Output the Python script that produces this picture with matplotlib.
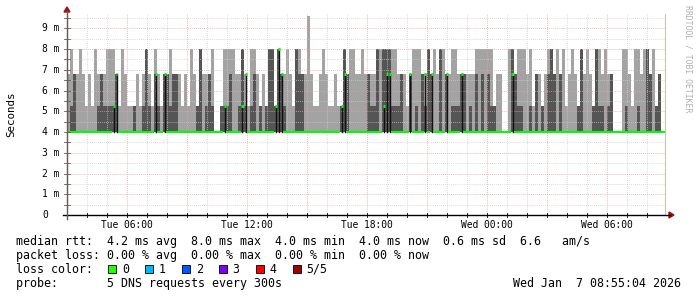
import numpy as np
import matplotlib.pyplot as plt
from matplotlib.patches import Rectangle, Polygon

W, H = 697, 297

# rtt levels in ms the 5 DNS probes fall on
level_ms = [4.0, 5.24, 6.78, 8.0, 9.6]
step_h = 0.15  # one column = 9 minutes, start Tue 03:00

# per column: top of light smoke, top of dark smoke, median (index into level_ms)
hi_code = ("232232121322233321321112123213212"
           "232221213213222330133332232133212"
           "1331322321332242112321121132332232"
           "222333333322212333223232332233222"
           "222333333122103323332312212332323"
           "1232132321332322000332133233231230")
dk_code = ("012000000012111120000010013102102"
           "212200000013012100111200131012010"
           "1331321000322000000000000132000000"
           "211303331112002010213200302011122"
           "010202021100000321100102010232020"
           "0000130001311012000010001003201200")
med_code = ("000000000000000120000000000002002"
            "000000000000000000010000012000000"
            "0001320000000000000000000120000000"
            "000001220000002000020200002000020"
            "000000000000000200000000000000000"
            "0000000000000000000000000000000000")

tick_hours = [3, 9, 15, 21, 27]
tick_labels = ["Tue 06:00", "Tue 12:00", "Tue 18:00", "Wed 00:00", "Wed 06:00"]
y_ticks = [0, 1, 2, 3, 4, 5, 6, 7, 8, 9]
y_labels = ["0", "1 m", "2 m", "3 m", "4 m", "5 m", "6 m", "7 m", "8 m", "9 m"]

legend_lines = [
    "median rtt:  4.2 ms avg  8.0 ms max  4.0 ms min  4.0 ms now  0.6 ms sd  6.6   am/s",
    "packet loss: 0.00 % avg  0.00 % max  0.00 % min  0.00 % now",
    "loss color:",
    "probe:       5 DNS requests every 300s",
]
loss_names = ["0", "1", "2", "3", "4", "5/5"]
loss_colors = ["#26ff00", "#00b8ff", "#0059ff", "#7e00ff", "#ff0000", "#a10000"]
stamp = "Wed Jan  7 08:55:04 2026"

hi = np.array([level_ms[int(c)] for c in hi_code])
dk = np.array([level_ms[int(c)] for c in dk_code])
med = np.array([int(c) for c in med_code])
n = len(hi)
edges = np.arange(n + 1) * step_h

mono = "DejaVu Sans Mono"
fig = plt.figure(figsize=(W / 100, H / 100), dpi=100)
fig.patch.set_facecolor("white")

def fx(px):
    return px / W

def fy(py):
    return 1 - py / H

x0, x1, ytop, ybot = 67, 665, 14, 215
ax = fig.add_axes([fx(x0), fy(ybot), fx(x1) - fx(x0), fy(ytop) - fy(ybot)])
ax.set_xlim(0, 29.9)
ax.set_ylim(0, 9.69)
ax.set_xticks([])
ax.set_yticks([])
for s in ax.spines.values():
    s.set_visible(False)

base = 4.0
ax.fill_between(edges, base, np.append(hi, hi[-1]), step="post",
                where=np.append(hi > base, True), color="#a3a3a3", lw=0, zorder=1)
dk_plot = np.where(dk > base, dk, base)
ax.fill_between(edges, base, np.append(dk_plot, dk_plot[-1]), step="post",
                color="#555555", lw=0, zorder=2)

# grid on top of the smoke, rrdtool style
dots = (0, (0.7, 1.4))
for h in range(1, 30):
    col = "#e0a4a4" if h % 3 == 0 else "#cccccc"
    ax.axvline(h, color=col, lw=0.7, ls=dots, zorder=3)
for v in np.arange(0.5, 9.6, 0.5):
    col = "#e0a4a4" if float(v).is_integer() else "#cccccc"
    ax.axhline(v, color=col, lw=0.7, ls=dots, zorder=3)

# median
for k in range(n):
    a, b = edges[k], edges[k + 1]
    if med[k] == 0:
        ax.plot([a, b], [base, base], color="#00ff00", lw=1.5,
                solid_capstyle="butt", zorder=5)
    else:
        m = level_ms[med[k]]
        xm = (a + b) / 2
        ax.plot([xm, xm], [base, m], color="#111111", lw=1.0, zorder=4)
        ax.plot([xm - 0.05, xm + 0.05], [m, m], color="#00ff00", lw=2.2,
                solid_capstyle="butt", zorder=5)

# axes lines and arrows
fig.add_artist(plt.Line2D([fx(x1), fx(x1)], [fy(ybot), fy(ytop)], color="#c8c8a8", lw=0.8))
fig.add_artist(plt.Line2D([fx(63), fx(670)], [fy(ybot), fy(ybot)], color="black", lw=1.0))
fig.add_artist(plt.Line2D([fx(x0), fx(x0)], [fy(219), fy(11)], color="#6a5555", lw=1.0))
fig.add_artist(Polygon([[fx(669), fy(212)], [fx(674), fy(215)], [fx(669), fy(218)]],
                       closed=True, color="#a01010", transform=fig.transFigure))
fig.add_artist(Polygon([[fx(64), fy(12)], [fx(67), fy(7)], [fx(70), fy(12)]],
                       closed=True, color="#a01010", transform=fig.transFigure))

# small ticks
for v in np.arange(0.5, 9.6, 0.5):
    py = ybot - v * (ybot - ytop) / 9.69
    fig.add_artist(plt.Line2D([fx(64), fx(70)], [fy(py), fy(py)], color="#6a5555", lw=0.6))
for h in range(1, 30):
    px = x0 + h * (x1 - x0) / 29.9
    fig.add_artist(plt.Line2D([fx(px), fx(px)], [fy(213), fy(217)], color="black", lw=0.6))

for v, lab in zip(y_ticks, y_labels):
    py = ybot - v * (ybot - ytop) / 9.69
    fig.text(fx(42), fy(py), lab, family=mono, fontsize=6.9, ha="left", va="center")
for h, lab in zip(tick_hours, tick_labels):
    px = x0 + h * (x1 - x0) / 29.9
    fig.text(fx(px), fy(225), lab, family=mono, fontsize=6.9, ha="center", va="center")

fig.text(fx(11), fy(114), "Seconds", family=mono, fontsize=7.8, rotation=90,
         ha="center", va="center")
fig.text(fx(688), fy(5), "RRDTOOL / TOBI OETIKER", family=mono, fontsize=5.9,
         rotation=270, ha="center", va="top", color="#b0b0b0")

baselines = [245, 259, 273, 287]
for txt, yb in zip(legend_lines, baselines):
    fig.text(fx(16), fy(yb), txt, family=mono, fontsize=8.4, ha="left", va="baseline")
for i, (name, c) in enumerate(zip(loss_names, loss_colors)):
    bx = 108 + i * 36.9
    fig.add_artist(Rectangle((fx(bx), fy(273)), 8 / W, 8 / H, facecolor=c,
                             edgecolor="black", lw=0.6, transform=fig.transFigure))
    fig.text(fx(bx + 14), fy(273), name, family=mono, fontsize=8.4, ha="left", va="baseline")
fig.text(fx(681), fy(287), stamp, family=mono, fontsize=8.4, ha="right", va="baseline")

fig.savefig("out.png", dpi=100)
